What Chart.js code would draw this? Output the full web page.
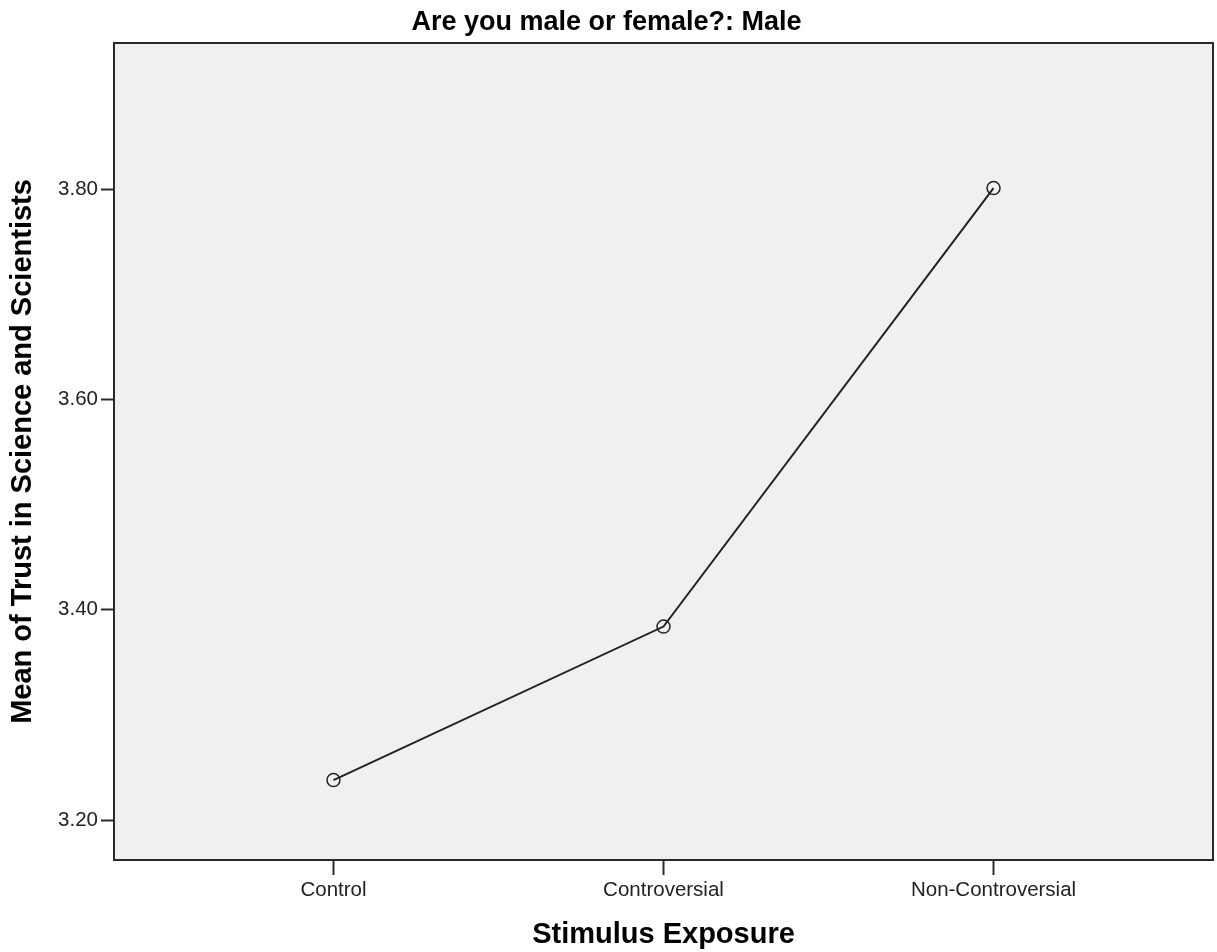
<!DOCTYPE html>
<html>
<head>
<meta charset="utf-8">
<script src="https://cdn.jsdelivr.net/npm/chart.js@4"></script>
<style>
  html, body { margin: 0; padding: 0; background: #fff; }
  #wrap { width: 1217px; height: 952px; }
</style>
</head>
<body>
<div id="wrap"><canvas id="chart"></canvas></div>
<script>
const categories = ["Control", "Controversial", "Non-Controversial"];
const meanTrust = [3.238, 3.384, 3.801];
const yTicks = [3.2, 3.4, 3.6, 3.8];

const FONT = "'Liberation Sans', Arial, sans-serif";

// plot panel: grey fill behind, dark frame on top
const panel = {
    id: 'panel',
    beforeDraw(chart) {
        const a = chart.chartArea;
        const ctx = chart.ctx;
        ctx.save();
        ctx.fillStyle = '#f0f0f0';
        ctx.fillRect(a.left, a.top, a.right - a.left, a.bottom - a.top);
        ctx.restore();
    },
    afterDraw(chart) {
        const a = chart.chartArea;
        const ctx = chart.ctx;
        ctx.save();
        ctx.strokeStyle = '#2a2a2a';
        ctx.lineWidth = 2;
        ctx.strokeRect(a.left, a.top, a.right - a.left, a.bottom - a.top);
        ctx.restore();
    }
};

const points = meanTrust.map((v, i) => ({ x: i, y: v }));

new Chart(document.getElementById('chart'), {
    type: 'line',
    data: {
        datasets: [{
            data: points,
            borderColor: '#222',
            borderWidth: 2,
            tension: 0,
            fill: false,
            pointStyle: 'circle',
            pointRadius: 6.5,
            pointBorderWidth: 1.5,
            pointBorderColor: '#222',
            pointBackgroundColor: 'rgba(0,0,0,0)'
        }]
    },
    options: {
        responsive: true,
        maintainAspectRatio: false,
        animation: false,
        layout: { padding: { top: 0, left: 0, bottom: 0, right: 4 }, autoPadding: false },
        plugins: {
            legend: { display: false },
            tooltip: { enabled: false },
            title: {
                display: true,
                text: 'Are you male or female?: Male',
                color: '#000',
                font: { family: FONT, size: 27, weight: 'bold' },
                padding: { top: 6, bottom: 4.6 }
            }
        },
        scales: {
            x: {
                type: 'linear',
                min: -0.665,
                max: 2.665,
                afterBuildTicks: (scale) => { scale.ticks = categories.map((c, i) => ({ value: i })); },
                afterFit: (scale) => {
                    scale.height = 92;
                    scale.paddingLeft = 0;
                    scale.paddingRight = 0;
                },
                border: { display: false },
                grid: {
                    drawOnChartArea: false,
                    drawTicks: true,
                    tickLength: 15,
                    tickWidth: 2,
                    tickColor: '#2a2a2a'
                },
                ticks: {
                    color: '#222',
                    padding: 3,
                    maxRotation: 0,
                    autoSkip: false,
                    font: { family: FONT, size: 20.5 },
                    callback: (v) => categories[v] ?? ''
                },
                title: {
                    display: true,
                    text: 'Stimulus Exposure',
                    color: '#000',
                    font: { family: FONT, size: 29, weight: 'bold' },
                    padding: { top: 0, bottom: 0 }
                }
            },
            y: {
                min: 3.162,
                max: 3.939,
                afterBuildTicks: (scale) => { scale.ticks = yTicks.map(v => ({ value: v })); },
                afterFit: (scale) => {
                    scale.width = 114;
                    scale.paddingTop = 0;
                    scale.paddingBottom = 0;
                },
                border: { display: false },
                grid: {
                    drawOnChartArea: false,
                    drawTicks: true,
                    tickLength: 13,
                    tickWidth: 2,
                    tickColor: '#2a2a2a'
                },
                ticks: {
                    color: '#222',
                    padding: 3,
                    font: { family: FONT, size: 20.5 },
                    callback: (v) => v.toFixed(2)
                },
                title: {
                    display: true,
                    text: 'Mean of Trust in Science and Scientists',
                    color: '#000',
                    font: { family: FONT, size: 29, weight: 'bold' },
                    padding: { top: 6, bottom: 0 }
                }
            }
        }
    },
    plugins: [panel]
});
</script>
</body>
</html>
